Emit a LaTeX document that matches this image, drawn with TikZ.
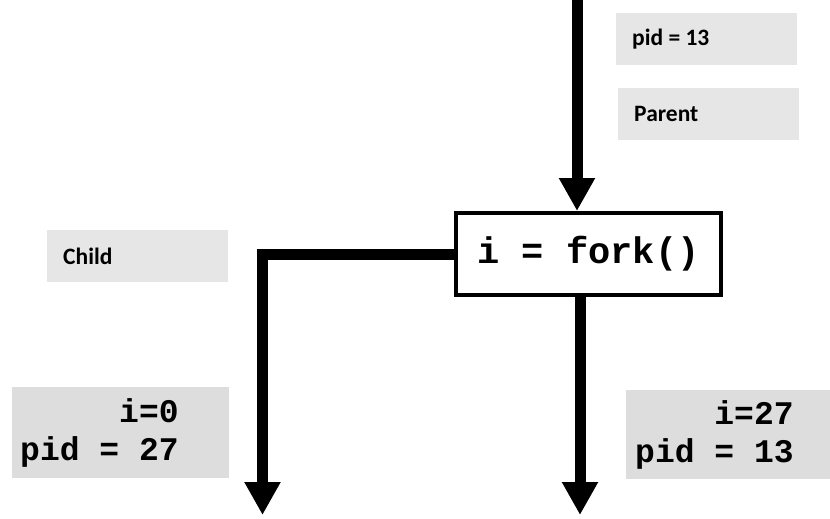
\documentclass[tikz,border=0pt]{standalone}
\usepackage{fontspec}
\setmainfont{Carlito}
\setmonofont{Liberation Mono}
\usetikzlibrary{arrows.meta,positioning}
\definecolor{tagfill}{HTML}{E6E6E6}
\definecolor{valfill}{HTML}{DDDDDD}
% align=left narrows the spaces, so give them back their font width
\newcommand{\widespaces}{\spaceskip=0pt\relax\xspaceskip=0pt\relax}

\begin{document}
\begin{tikzpicture}[x=1pt,y=-1pt,
    flow/.style={line width=11pt,-{Triangle[width=34pt,length=33pt]}},
    forkbox/.style={draw,line width=4pt,minimum width=265pt,minimum height=82pt,
        font=\ttfamily\bfseries\fontsize{37}{44}\selectfont},
    tagbox/.style={fill=tagfill,anchor=north west,minimum height=52pt,inner xsep=16pt,
        text width=149pt,align=left,font=\bfseries\fontsize{23.5}{28}\selectfont},
    valbox/.style={fill=valfill,anchor=north west,align=left,
        font=\ttfamily\bfseries\fontsize{33}{38}\selectfont}]
    \useasboundingbox (0,0) rectangle (830,519);

    % labels
    \node[tagbox] (pid) at (616,13) {\widespaces pid = 13};
    \node[tagbox] (parent) at (618,88) {Parent};
    \node[tagbox] (child) at (47,230) {Child};
    \node[valbox,minimum height=91pt,inner xsep=8pt,text width=201pt] (childvals) at (12,387)
        {\widespaces\ \ \ \ \ i=0\\pid = 27};
    \node[valbox,minimum height=89pt,inner xsep=9pt,text width=186pt] (parentvals) at (626,390)
        {\widespaces\ \ \ \ i=27\\pid = 13};

    % the fork call and its two branches
    \node[forkbox] (fork) at (588.5,254) {i = fork()};
    \coordinate (src) at (577,0);
    \coordinate (childend) at (262.5,515);
    \coordinate (parentend) at (580,515);
    \draw[flow] (src) -- (src |- fork.north);
    \draw[flow] (fork.west) -| (childend);
    \draw[flow] (parentend |- fork.south) -- (parentend);
\end{tikzpicture}
\end{document}
